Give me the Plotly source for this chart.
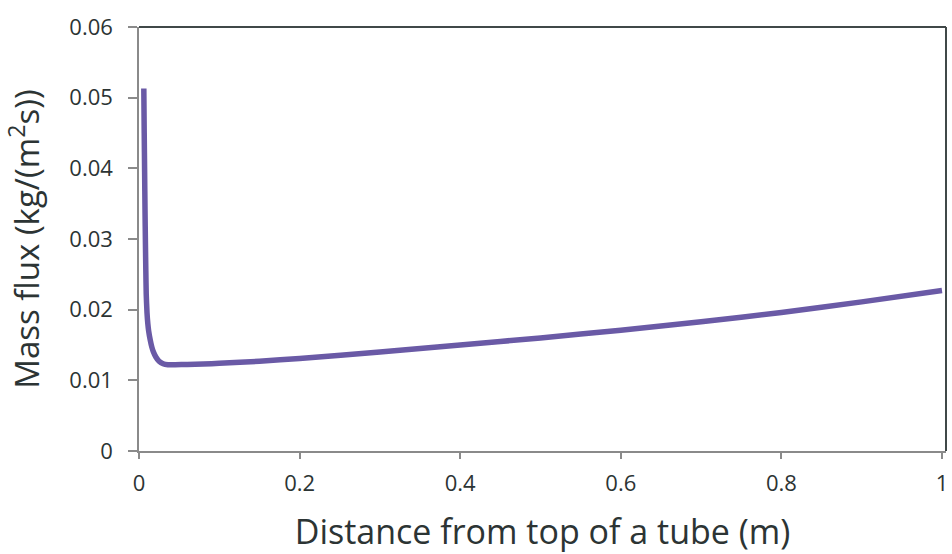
import plotly.graph_objects as go

distance_m = [0.006, 0.0065, 0.007, 0.0075, 0.008, 0.0085, 0.009, 0.010, 0.011, 0.012, 0.014,
              0.016, 0.018, 0.021, 0.025, 0.030, 0.036, 0.045, 0.06, 0.08, 0.10, 0.15,
              0.20, 0.30, 0.40, 0.50, 0.60, 0.70, 0.80, 0.90, 1.00]
mass_flux = [0.0513, 0.0450, 0.0395, 0.0340, 0.0295, 0.0255, 0.0222, 0.0195, 0.0180, 0.0170, 0.0157,
             0.0147, 0.0140, 0.0133, 0.0127, 0.01235, 0.0122, 0.0122, 0.01225, 0.0123, 0.0124, 0.0127,
             0.0131, 0.0140, 0.0150, 0.0160, 0.0171, 0.0183, 0.0196, 0.0211, 0.0227]

x_ticks = [0, 0.2, 0.4, 0.6, 0.8, 1]
x_tick_labels = ["0", "0.2", "0.4", "0.6", "0.8", "1"]
y_ticks = [0, 0.01, 0.02, 0.03, 0.04, 0.05, 0.06]
y_tick_labels = ["0", "0.01", "0.02", "0.03", "0.04", "0.05", "0.06"]

font_family = "Open Sans, Noto Sans, DejaVu Sans, sans-serif"
text_color = "#2c3434"

fig = go.Figure()
fig.add_trace(go.Scatter(
    x=distance_m, y=mass_flux, mode="lines",
    line=dict(color="#6a5aa6", width=5.5, shape="spline", smoothing=0.6),
    showlegend=False, hoverinfo="x+y"))

fig.update_layout(
    width=952, height=554,
    margin=dict(l=139, r=4, t=27, b=102),
    paper_bgcolor="white", plot_bgcolor="white",
    font=dict(family=font_family, color=text_color, size=22),
    xaxis=dict(
        range=[0, 1.005], tickvals=x_ticks, ticktext=x_tick_labels,
        showgrid=False, zeroline=False,
        showline=True, linecolor="#8a8a8a", linewidth=1.5,
        ticks="outside", ticklen=6, tickcolor="#8a8a8a", tickwidth=1.5,
        tickfont=dict(size=22, color=text_color),
        ticklabelstandoff=6,
        title=dict(text="Distance from top of a tube (m)", font=dict(size=34, color=text_color), standoff=29),
    ),
    yaxis=dict(
        range=[0, 0.06], tickvals=y_ticks, ticktext=y_tick_labels,
        showgrid=False, zeroline=False,
        showline=True, linecolor="#8a8a8a", linewidth=1.5,
        ticks="outside", ticklen=9, tickcolor="#8a8a8a", tickwidth=1.5,
        tickfont=dict(size=22, color=text_color),
        ticklabelstandoff=11,
        title=dict(text="Mass flux (kg/(m<sup>2</sup>s))", font=dict(size=33, color=text_color), standoff=20),
    ),
    shapes=[
        dict(type="line", xref="paper", yref="paper", x0=0, x1=1, y0=1, y1=1,
             line=dict(color="#404848", width=2)),
        dict(type="line", xref="paper", yref="paper", x0=1, x1=1, y0=0, y1=1,
             line=dict(color="#404848", width=2)),
    ],
)

fig.write_html("out.html", config={"displayModeBar": False},
               post_script="document.body.style.margin='0';document.body.style.overflow='hidden';")
